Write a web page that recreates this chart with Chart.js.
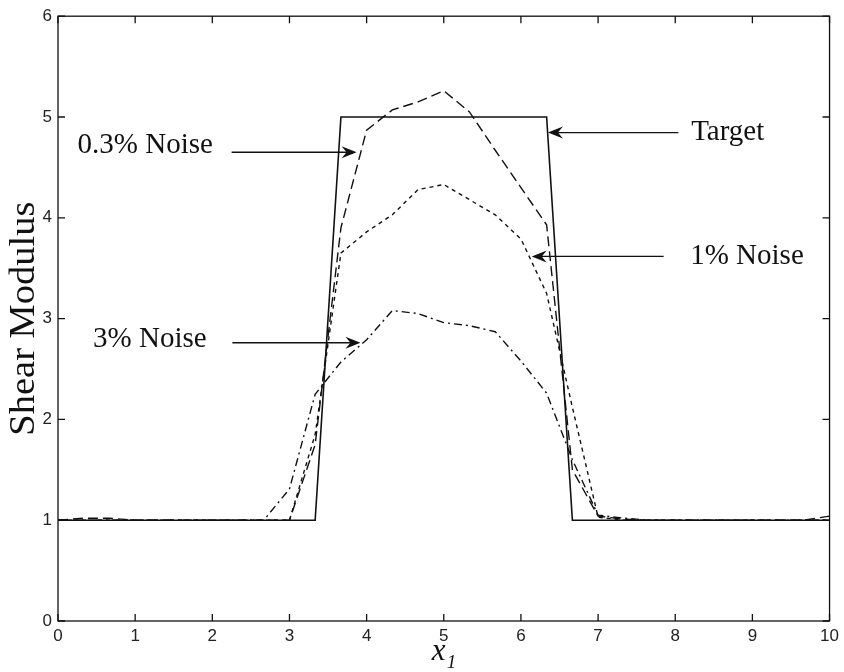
<!DOCTYPE html>
<html>
<head>
<meta charset="utf-8">
<script src="https://cdn.jsdelivr.net/npm/chart.js@4.4.1/dist/chart.umd.min.js"></script>
<style>
  html, body { margin: 0; padding: 0; background: #fff; }
</style>
</head>
<body>
<canvas id="shear-chart" width="844" height="672"></canvas>
<script>
  // x positions of the reconstruction grid (steps of 1/3)
  const xValues = [0, 0.333, 0.667, 1, 1.333, 1.667, 2, 2.333, 2.667, 3, 3.333,
    3.667, 4, 4.333, 4.667, 5, 5.333, 5.667, 6, 6.333, 6.667,
    7, 7.333, 7.667, 8, 8.333, 8.667, 9, 9.333, 9.667, 10];

  const target = [1, 1, 1, 1, 1, 1, 1, 1, 1, 1, 1,
    5, 5, 5, 5, 5, 5, 5, 5, 5,
    1, 1, 1, 1, 1, 1, 1, 1, 1, 1, 1];

  const noise03 = [1.0, 1.02, 1.02, 1.0, 1.0, 1.0, 1.0, 1.0, 1.0, 1.0, 1.75,
    3.9, 4.87, 5.07, 5.15, 5.26, 5.05, 4.67, 4.3, 3.93,
    1.5, 1.04, 1.01, 1.0, 1.0, 1.0, 1.0, 1.0, 1.0, 1.0, 1.04];

  const noise1 = [1.0, 1.0, 1.0, 1.0, 1.0, 1.0, 1.0, 1.0, 1.0, 1.0, 1.85,
    3.65, 3.86, 4.03, 4.28, 4.33, 4.18, 4.03, 3.79, 3.25,
    2.12, 1.03, 1.0, 1.0, 1.0, 1.0, 1.0, 1.0, 1.0, 1.0, 1.0];

  const noise3 = [1.0, 1.0, 1.0, 1.0, 1.0, 1.0, 1.0, 1.0, 1.0, 1.31, 2.25,
    2.57, 2.79, 3.08, 3.05, 2.96, 2.93, 2.87, 2.58, 2.26,
    1.6, 1.05, 1.02, 1.0, 1.0, 1.0, 1.0, 1.0, 1.0, 1.0, 1.0];

  const xTicks = [0, 1, 2, 3, 4, 5, 6, 7, 8, 9, 10];
  const yTicks = [0, 1, 2, 3, 4, 5, 6];

  // text labels with arrows, in data units
  const noteText = ['0.3% Noise', 'Target', '1% Noise', '3% Noise'];
  const noteX = [1.13, 8.68, 8.93, 1.19];
  const noteY = [4.72, 4.85, 3.62, 2.79];
  const arrowFrom = [2.25, 8.04, 7.85, 2.26];
  const arrowTo = [3.87, 6.35, 6.14, 3.92];
  const arrowY = [4.65, 4.845, 3.617, 2.76];

  function toPoints(ys) {
    return xValues.map((x, i) => ({ x: x, y: ys[i] }));
  }

  function drawArrow(ctx, x1, x2, y) {
    const dir = x2 > x1 ? 1 : -1;
    ctx.beginPath();
    ctx.moveTo(x1, y);
    ctx.lineTo(x2 - dir * 8, y);
    ctx.stroke();
    ctx.beginPath();
    ctx.moveTo(x2, y);
    ctx.lineTo(x2 - dir * 15, y - 6);
    ctx.lineTo(x2 - dir * 10, y);
    ctx.lineTo(x2 - dir * 15, y + 6);
    ctx.closePath();
    ctx.fill();
  }

  const framePlugin = {
    id: 'frame',
    afterDraw(chart) {
      const ctx = chart.ctx;
      const a = chart.chartArea;
      const xs = chart.scales.x;
      const ys = chart.scales.y;
      ctx.save();
      ctx.strokeStyle = '#111';
      ctx.fillStyle = '#111';
      ctx.lineWidth = 1.3;
      ctx.strokeRect(a.left, a.top, a.right - a.left, a.bottom - a.top);

      // inward ticks on all four sides
      ctx.beginPath();
      xTicks.forEach(v => {
        const px = xs.getPixelForValue(v);
        ctx.moveTo(px, a.bottom); ctx.lineTo(px, a.bottom - 7);
        ctx.moveTo(px, a.top); ctx.lineTo(px, a.top + 7);
      });
      yTicks.forEach(v => {
        const py = ys.getPixelForValue(v);
        ctx.moveTo(a.left, py); ctx.lineTo(a.left + 7, py);
        ctx.moveTo(a.right, py); ctx.lineTo(a.right - 7, py);
      });
      ctx.stroke();

      // notes
      ctx.font = '29px "Liberation Serif", "DejaVu Serif", serif';
      ctx.textAlign = 'center';
      ctx.textBaseline = 'middle';
      ctx.lineWidth = 1.4;
      for (let i = 0; i < noteText.length; i++) {
        ctx.fillText(noteText[i], xs.getPixelForValue(noteX[i]), ys.getPixelForValue(noteY[i]));
        drawArrow(ctx, xs.getPixelForValue(arrowFrom[i]), xs.getPixelForValue(arrowTo[i]),
          ys.getPixelForValue(arrowY[i]));
      }

      // x axis title with subscript
      const cx = (a.left + a.right) / 2;
      ctx.textAlign = 'left';
      ctx.textBaseline = 'alphabetic';
      ctx.font = 'italic 31px "Liberation Serif", serif';
      ctx.fillText('x', cx - 12, 660);
      ctx.font = 'italic 19px "Liberation Serif", serif';
      ctx.fillText('1', cx + 3, 668);

      // y axis title
      ctx.save();
      ctx.translate(25, (a.top + a.bottom) / 2);
      ctx.rotate(-Math.PI / 2);
      ctx.scale(1.1, 1);
      ctx.textAlign = 'center';
      ctx.textBaseline = 'middle';
      ctx.font = '35px "Liberation Serif", serif';
      ctx.fillText('Shear Modulus', 0, 0);
      ctx.restore();

      ctx.restore();
    }
  };

  function lineSet(label, ys, dash, width) {
    return {
      label: label,
      data: toPoints(ys),
      showLine: true,
      borderColor: '#111',
      borderWidth: width,
      borderDash: dash,
      pointRadius: 0,
      fill: false,
      tension: 0
    };
  }

  const ctx = document.getElementById('shear-chart').getContext('2d');
  new Chart(ctx, {
    type: 'scatter',
    data: {
      datasets: [
        lineSet('Target', target, [], 1.6),
        lineSet('0.3% Noise', noise03, [10, 5], 1.4),
        lineSet('1% Noise', noise1, [4, 4], 1.4),
        lineSet('3% Noise', noise3, [8, 4, 2, 4], 1.4)
      ]
    },
    options: {
      responsive: false,
      animation: false,
      devicePixelRatio: 1,
      layout: { padding: { top: 11, right: 13, left: 0, bottom: 0 } },
      plugins: {
        legend: { display: false },
        tooltip: { enabled: false }
      },
      scales: {
        x: {
          type: 'linear',
          min: 0,
          max: 10,
          grid: { display: false, drawTicks: false },
          border: { display: false },
          ticks: {
            stepSize: 1,
            padding: 5,
            color: '#222',
            font: { family: '"Liberation Sans", Arial, sans-serif', size: 17 }
          },
          afterFit: s => { s.height = 51; }
        },
        y: {
          min: 0,
          max: 6,
          grid: { display: false, drawTicks: false },
          border: { display: false },
          ticks: {
            stepSize: 1,
            padding: 6,
            color: '#222',
            font: { family: '"Liberation Sans", Arial, sans-serif', size: 17 }
          },
          afterFit: s => { s.width = 58; }
        }
      }
    },
    plugins: [framePlugin]
  });
</script>
</body>
</html>
